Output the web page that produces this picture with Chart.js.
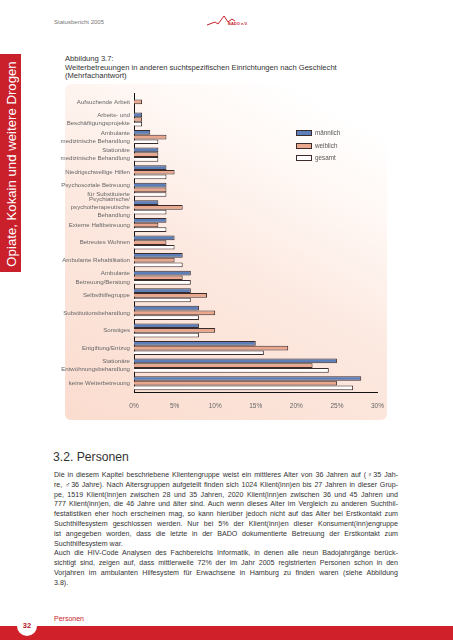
<!DOCTYPE html>
<html>
<head>
<meta charset="utf-8">
<script src="https://cdn.jsdelivr.net/npm/chart.js@4"></script>
<style>
  html, body { margin: 0; padding: 0; background: #fff; }
  body { width: 453px; height: 640px; position: relative; overflow: hidden;
         font-family: "Liberation Sans", Arial, sans-serif; color: #333; }
  .abs { position: absolute; }
  #head { left: 54px; top: 19px; font-size: 6px; color: #777; }
  #band { left: 0; top: 54px; width: 21px; height: 218px; background: #c9202b; }
  #bandtxt { left: 11px; top: 164px; transform: translate(-50%, -50%) rotate(-90deg);
             white-space: nowrap; color: #fff; font-size: 13.2px; }
  #title { left: 65px; top: 55px; font-size: 7.6px; line-height: 8.6px; color: #333; }
  #panel { left: 65px; top: 84px; width: 322px; height: 336px; border-radius: 6px;
           background: linear-gradient(28deg, #fbdccf 0%, #fce8df 45%, #fff9f6 75%, #ffffff 90%); }
  #wrap { left: 60px; top: 85px; width: 334px; height: 335px; }
  .lg { position: absolute; left: 296px; font-size: 6.3px; color: #555; }
  .lg i { position: absolute; left: 0; top: 0; width: 14px; height: 4px; border: 1px solid #3b2b2b; }
  .lg span { position: absolute; left: 19px; top: -1.5px; white-space: nowrap; }
  #sec { left: 53px; top: 450px; font-size: 12.2px; color: #333; }
  #body { left: 54px; top: 471px; width: 344px; font-size: 7.1px; line-height: 9.8px; color: #333; }
  #body div { text-align: justify; text-align-last: justify; white-space: nowrap; }
  #body div.l { text-align: left; text-align-last: left; }
  #foot { left: 0; top: 626px; width: 453px; height: 14px; background: #d0202a; }
  #circ { left: 17px; top: 616px; width: 20px; height: 20px; border-radius: 50%; background: #fff;
          font-size: 7.5px; font-weight: bold; color: #b0202a; text-align: center; line-height: 20px; }
  #fname { left: 54px; top: 615px; font-size: 7px; color: #c9202b; }
</style>
</head>
<body>
<div class="abs" id="head">Statusbericht 2005</div>
<svg class="abs" style="left:205px;top:13px" width="50" height="16">
  <polyline points="2,12 10,9 13,11 19,3 23,9 27,6 30,8" fill="none" stroke="#c9202b" stroke-width="1"/>
  <text x="23" y="12" font-size="4" font-family="Liberation Sans" font-weight="bold" fill="#c9202b">BADO e.V.</text>
</svg>
<div class="abs" id="band"></div>
<div class="abs" id="bandtxt">Opiate, Kokain und weitere Drogen</div>
<div class="abs" id="title">Abbildung 3.7:<br>Weiterbetreuungen in anderen suchtspezifischen Einrichtungen nach Geschlecht<br>(Mehrfachantwort)</div>
<div class="abs" id="panel"></div>
<div class="abs" id="wrap"><canvas id="c" width="334" height="335"></canvas></div>
<div class="lg" style="top:130px"><i style="background:#5d7fb9"></i><span>männlich</span></div>
<div class="lg" style="top:143px"><i style="background:#e9a88e"></i><span>weiblich</span></div>
<div class="lg" style="top:155px"><i style="background:#fff"></i><span>gesamt</span></div>

<div class="abs" id="sec">3.2. Personen</div>
<div class="abs" id="body">
<div>Die in diesem Kapitel beschriebene Klientengruppe weist ein mittleres Alter von 36 Jahren auf (♀35 Jah-</div>
<div>re, ♂36 Jahre). Nach Altersgruppen aufgeteilt finden sich 1024 Klient(inn)en bis 27 Jahren in dieser Grup-</div>
<div>pe, 1519 Klient(inn)en zwischen 28 und 35 Jahren, 2020 Klient(inn)en zwischen 36 und 45 Jahren und</div>
<div>777 Klient(inn)en, die 46 Jahre und älter sind. Auch wenn dieses Alter im Vergleich zu anderen Suchthil-</div>
<div>festatistiken eher hoch erscheinen mag, so kann hierüber jedoch nicht auf das Alter bei Erstkontakt zum</div>
<div>Suchthilfesystem geschlossen werden. Nur bei 5% der Klient(inn)en dieser Konsument(inn)engruppe</div>
<div>ist angegeben worden, dass die letzte in der BADO dokumentierte Betreuung der Erstkontakt zum</div>
<div class="l">Suchthilfesystem war.</div>
<div>Auch die HIV-Code Analysen des Fachbereichs Informatik, in denen alle neun Badojahrgänge berück-</div>
<div>sichtigt sind, zeigen auf, dass mittlerweile 72% der im Jahr 2005 registrierten Personen schon in den</div>
<div>Vorjahren im ambulanten Hilfesystem für Erwachsene in Hamburg zu finden waren (siehe Abbildung</div>
<div class="l">3.8).</div>
</div>
<div class="abs" id="fname">Personen</div>
<div class="abs" id="foot"></div>
<div class="abs" id="circ">32</div>

<script>
// Kategorien (Einrichtungen)
const categories = [
  'Aufsuchende Arbeit',
  ['Arbeits- und', 'Beschäftigungsprojekte'],
  ['Ambulante', 'medizinische Behandlung'],
  ['Stationäre', 'medizinische Behandlung'],
  'Niedrigschwellige Hilfen',
  ['Psychosoziale Betreuung', 'für Substituierte'],
  ['Psychiatrische/', 'psychotherapeutische', 'Behandlung'],
  'Externe Haftbetreuung',
  'Betreutes Wohnen',
  'Ambulante Rehabilitation',
  ['Ambulante', 'Betreuung/Beratung'],
  'Selbsthilfegruppe',
  'Substitutionsbehandlung',
  'Sonstiges',
  'Entgiftung/Entzug',
  ['Stationäre', 'Entwöhnungsbehandlung'],
  'keine Weiterbetreuung'
];

// Anteile in %
const maennlich = [0, 1, 2, 3, 4, 4, 3, 4, 5, 6, 7, 7, 8, 8, 15, 25, 28];
const weiblich  = [1, 1, 4, 3, 5, 4, 6, 3, 4, 5, 6, 9, 10, 10, 19, 22, 25];
const gesamt    = [0, 1, 3, 3, 4, 4, 4, 4, 5, 6, 7, 7, 8, 8, 16, 24, 27];

const xTicks = [0, 5, 10, 15, 20, 25, 30];

const edge = '#3b2b2b';

new Chart(document.getElementById('c').getContext('2d'), {
  type: 'bar',
  data: {
    labels: categories,
    datasets: [
      { label: 'männlich', data: maennlich, backgroundColor: '#5d7fb9', borderColor: edge, borderWidth: 1 },
      { label: 'weiblich', data: weiblich, backgroundColor: '#e9a88e', borderColor: edge, borderWidth: 1 },
      { label: 'gesamt', data: gesamt, backgroundColor: '#ffffff', borderColor: edge, borderWidth: 1 }
    ]
  },
  options: {
    indexAxis: 'y',
    responsive: false,
    animation: false,
    devicePixelRatio: 1,
    categoryPercentage: 0.8,
    barPercentage: 1.0,
    layout: { padding: { top: 8, right: 7, left: 0, bottom: 0 } },
    plugins: { legend: { display: false }, tooltip: { enabled: false } },
    scales: {
      x: {
        min: 0, max: 30,
        afterFit: s => { s.height = 28; },
        afterBuildTicks: s => { s.ticks = xTicks.map(v => ({ value: v })); },
        grid: { display: false, drawTicks: false },
        border: { display: true, color: '#111', width: 1 },
        ticks: {
          padding: 10,
          color: '#666',
          font: { family: 'Liberation Sans', size: 6.5 },
          callback: v => v + '%'
        }
      },
      y: {
        afterFit: s => { s.width = 74; },
        grid: { display: false, drawTicks: false },
        border: { display: true, color: '#111', width: 1 },
        ticks: {
          padding: 4,
          color: '#666',
          font: { family: 'Liberation Sans', size: 6.1, lineHeight: 1.35 },
          autoSkip: false
        }
      }
    }
  }
});
</script>
</body>
</html>
